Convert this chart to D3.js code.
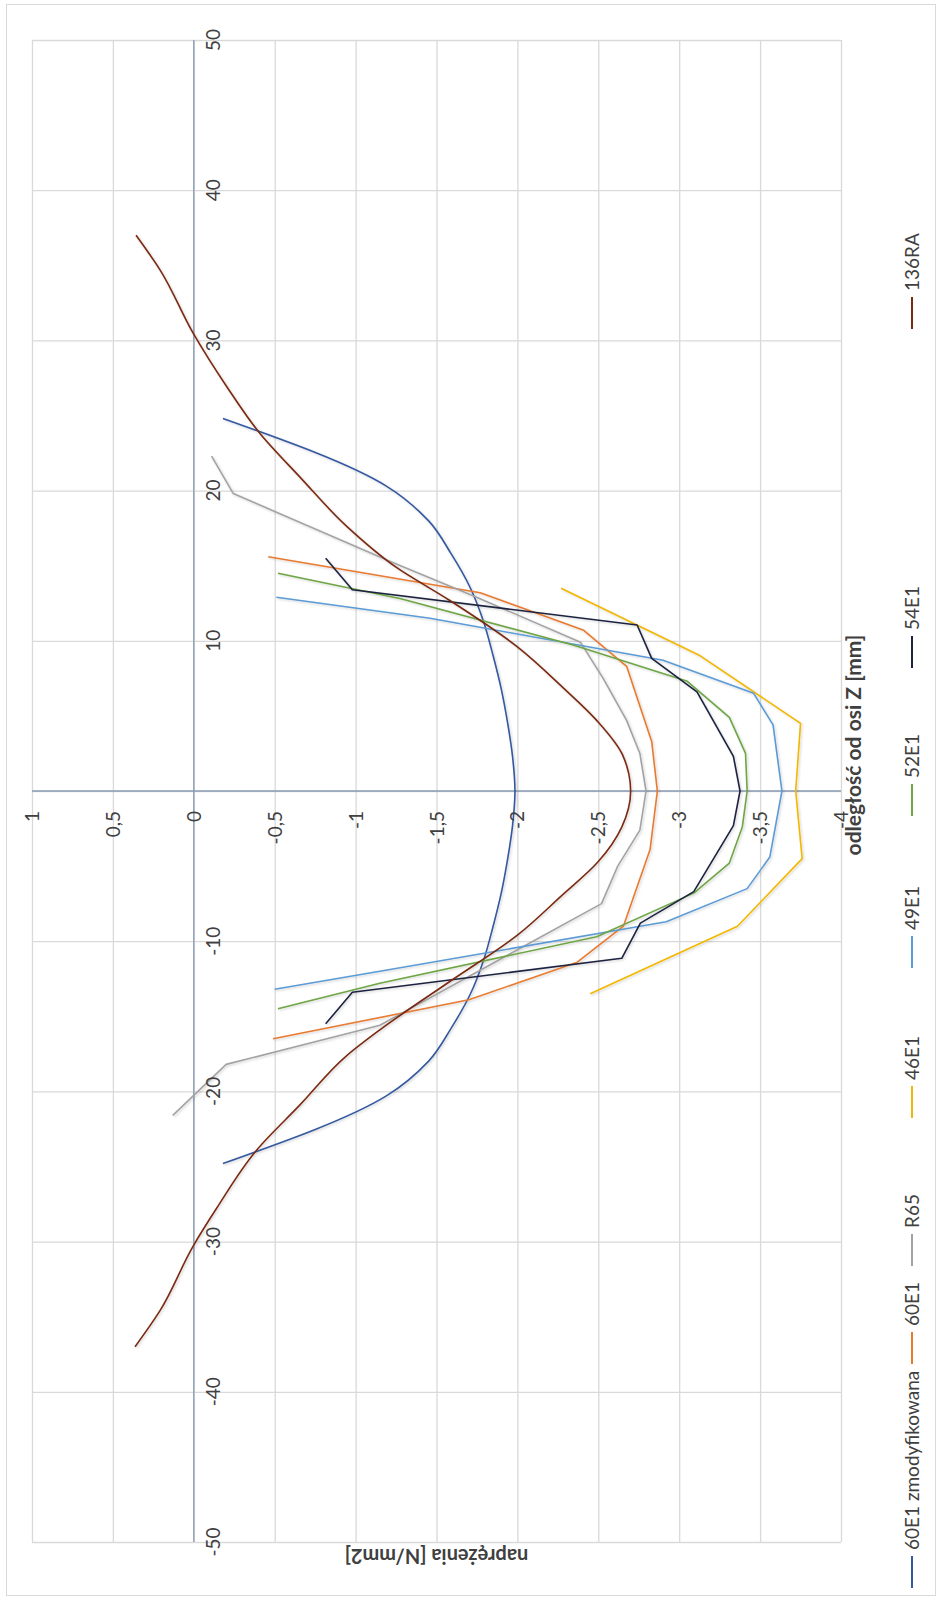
<!DOCTYPE html>
<html><head><meta charset="utf-8">
<script src="https://cdn.jsdelivr.net/npm/d3@7"></script>
<style>body{margin:0;background:#fff}text{font-family:Lato,"Open Sans",sans-serif;fill:#404040}</style>
</head><body><svg id="c" width="942" height="1600"></svg>
<script>
// ---- data (distance from Z axis [mm], stress [N/mm2]) ----
const stressTicks = [1, 0.5, 0, -0.5, -1, -1.5, -2, -2.5, -3, -3.5, -4];
const distTicks = [50, 40, 30, 20, 10, 0, -10, -20, -30, -40, -50];
const seriesNames = ["60E1 zmodyfikowana", "60E1", "R65", "46E1", "49E1", "52E1", "54E1", "136RA"];
const seriesColors = ["#34589f", "#e87a30", "#a3a3a3", "#f2b705", "#5b9bd5", "#6ea545", "#1c2440", "#7a2a12"];

const dist_60E1zmod = [24.8, 20.3, 18.0, 15.8, 13.5, 11.3, 9.0, 6.8, 4.5, 2.3, 0, -2.3, -4.5, -6.8, -9.0, -11.3, -13.5, -15.8, -18.0, -20.3, -24.8];
const str_60E1zmod = [-0.18, -1.19, -1.45, -1.59, -1.71, -1.79, -1.85, -1.90, -1.94, -1.97, -1.985, -1.97, -1.94, -1.90, -1.85, -1.79, -1.71, -1.59, -1.45, -1.19, -0.18];

const dist_60E1 = [15.6, 13.2, 10.7, 8.3, 3.3, 0, -3.9, -9.0, -11.4, -13.9, -16.5];
const str_60E1 = [-0.46, -1.77, -2.41, -2.675, -2.83, -2.865, -2.82, -2.655, -2.37, -1.70, -0.49];

const dist_R65 = [22.3, 19.8, 15.2, 12.9, 9.9, 7.5, 4.7, 2.5, 0, -2.6, -5.0, -7.5, -15.6, -18.2, -21.6];
const str_R65 = [-0.11, -0.244, -1.233, -1.748, -2.39, -2.53, -2.675, -2.757, -2.795, -2.757, -2.62, -2.52, -1.15, -0.2, 0.13];

const dist_46E1 = [13.5, 9.0, 4.5, 0, -4.5, -9.0, -13.5];
const str_46E1 = [-2.27, -3.13, -3.75, -3.72, -3.76, -3.36, -2.45];

const dist_49E1 = [12.9, 11.5, 8.7, 6.5, 4.4, 0, -4.4, -6.5, -8.7, -12.0, -13.2];
const str_49E1 = [-0.51, -1.46, -2.90, -3.46, -3.58, -3.635, -3.56, -3.42, -2.92, -1.15, -0.5];

const dist_52E1 = [14.5, 12.8, 9.7, 7.3, 4.9, 2.5, 0, -2.4, -4.8, -6.8, -9.7, -12.8, -14.5];
const str_52E1 = [-0.52, -1.28, -2.35, -3.05, -3.31, -3.41, -3.42, -3.39, -3.31, -3.09, -2.49, -1.15, -0.52];

const dist_54E1 = [15.5, 13.4, 11.05, 8.83, 6.6, 2.3, 0, -2.3, -6.7, -8.8, -11.14, -13.4, -15.5];
const str_54E1 = [-0.815, -0.98, -2.74, -2.83, -3.11, -3.335, -3.376, -3.335, -3.09, -2.76, -2.645, -0.98, -0.815];

const dist_136RA = [37.0, 34.7, 30.5, 26.9, 23.8, 20.9, 17.6, 14.9, 12.7, 9.6, 6.9, 4.7, 2.4, 0, -2.4, -4.7, -7.0, -9.6, -12.7, -15.9, -17.6, -20.9, -23.9, -27.8, -30.3, -34.6, -37.0];
const str_136RA = [0.357, 0.209, 0.005, -0.205, -0.409, -0.656, -0.947, -1.25, -1.58, -2.0, -2.28, -2.49, -2.65, -2.70, -2.645, -2.50, -2.27, -2.0, -1.58, -1.15, -0.947, -0.656, -0.389, -0.14, 0.004, 0.209, 0.363];

const seriesDist = [dist_60E1zmod, dist_60E1, dist_R65, dist_46E1, dist_49E1, dist_52E1, dist_54E1, dist_136RA];
const seriesStr = [str_60E1zmod, str_60E1, str_R65, str_46E1, str_49E1, str_52E1, str_54E1, str_136RA];
const smoothSeries = ["60E1 zmodyfikowana", "136RA"];

// ---- layout ----
const svg = d3.select("#c");
const W = 942, H = 1600;
const plot = {left: 32, right: 841, top: 40, bottom: 1542};
const x = d3.scaleLinear().domain([1, -4]).range([plot.left, plot.right]);
const y = d3.scaleLinear().domain([50, -50]).range([plot.top, plot.bottom]);

svg.append("rect").attr("x", 6.5).attr("y", 4.5).attr("width", W - 13).attr("height", H - 9)
  .attr("fill", "#fff").attr("stroke", "#d9d9d9").attr("stroke-width", 1);

const defs = svg.append("defs");
const f = defs.append("filter").attr("id", "sh").attr("x", "-5%").attr("y", "-5%").attr("width", "110%").attr("height", "110%");
f.append("feDropShadow").attr("dx", 1.2).attr("dy", 1.2).attr("stdDeviation", 1).attr("flood-color", "#000").attr("flood-opacity", 0.18);

// gridlines
const gGrid = svg.append("g");
gGrid.append("g").attr("transform", `translate(0,${plot.top})`)
  .call(d3.axisTop(x).tickValues(stressTicks).tickSize(-(plot.bottom - plot.top)).tickFormat(""))
  .call(g => g.select(".domain").remove())
  .call(g => g.selectAll("line").attr("stroke", "#d9d9d9").attr("stroke-width", 1.3));
gGrid.append("g").attr("transform", `translate(${plot.left},0)`)
  .call(d3.axisLeft(y).tickValues(distTicks).tickSize(-(plot.right - plot.left)).tickFormat(""))
  .call(g => g.select(".domain").remove())
  .call(g => g.selectAll("line").attr("stroke", "#d9d9d9").attr("stroke-width", 1.3));

// axis lines (crossing at zero)
svg.append("line").attr("x1", x(0)).attr("x2", x(0)).attr("y1", plot.top).attr("y2", plot.bottom)
  .attr("stroke", "#8a9ab3").attr("stroke-width", 1.3);
svg.append("line").attr("x1", plot.left).attr("x2", plot.right).attr("y1", y(0)).attr("y2", y(0))
  .attr("stroke", "#8a9ab3").attr("stroke-width", 1.3);

// series
const gLines = svg.append("g").attr("filter", "url(#sh)");
seriesNames.forEach((name, i) => {
  const pts = seriesDist[i].map((d, k) => [seriesStr[i][k], d]);
  const line = d3.line().x(p => x(p[0])).y(p => y(p[1]))
    .curve(smoothSeries.includes(name) ? d3.curveMonotoneY : d3.curveLinear);
  gLines.append("path").attr("d", line(pts)).attr("fill", "none")
    .attr("stroke", seriesColors[i]).attr("stroke-width", 1.6).attr("stroke-linejoin", "round");
});

// tick labels
const fmt = v => String(v).replace(".", ",");
svg.append("g").selectAll("text").data(stressTicks).join("text")
  .attr("transform", d => `translate(${x(d) + 7},${y(0) + 20}) rotate(-90)`)
  .attr("text-anchor", "end").attr("font-size", 19).text(fmt);
svg.append("g").selectAll("text").data(distTicks.filter(d => d !== 0)).join("text")
  .attr("transform", d => `translate(${x(0) + 26},${y(d)}) rotate(-90)`)
  .attr("text-anchor", "middle").attr("font-size", 19).text(fmt);

// axis titles
svg.append("text").attr("transform", `translate(861,745) rotate(-90)`)
  .attr("text-anchor", "middle").attr("font-size", 21).attr("font-weight", "bold").text("odległość od osi Z [mm]");
svg.append("text").attr("transform", `translate(${(plot.left + plot.right) / 2},1549) rotate(180)`)
  .attr("text-anchor", "middle").attr("font-size", 20).attr("font-weight", "bold").text("naprężenia [N/mm2]");

// legend (reads bottom-to-top: line sample below, name above)
const legX = 912, dashLen = 32, dashGap = 6;
const legendDashBottom = [1588, 1364, 1266, 1118, 968, 816, 668, 329];
const gLeg = svg.append("g");
seriesNames.forEach((n, i) => {
  const yb = legendDashBottom[i];
  gLeg.append("line").attr("x1", legX).attr("x2", legX).attr("y1", yb).attr("y2", yb - dashLen)
    .attr("stroke", seriesColors[i]).attr("stroke-width", 2);
  gLeg.append("text").attr("font-size", 19)
    .attr("transform", `translate(${legX + 7},${yb - dashLen - dashGap}) rotate(-90)`).text(n);
});
</script></body></html>
